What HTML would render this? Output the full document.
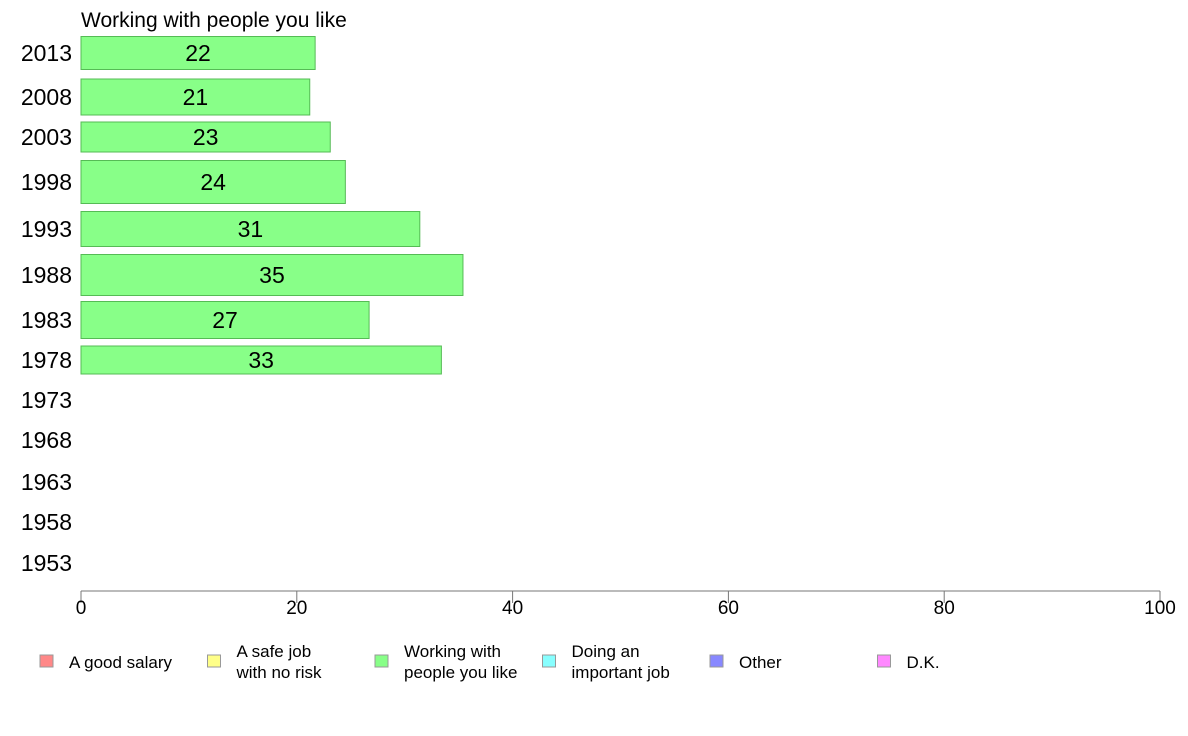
<!DOCTYPE html>
<html><head><meta charset="utf-8"><style>
body{margin:0;background:#fff;}
svg{display:block;font-family:"Liberation Sans",Arial,sans-serif;}
</style></head><body>
<svg id="chart" width="1188" height="736" viewBox="0 0 1188 736">
<text x="81" y="27" font-size="21" fill="#000">Working with people you like</text>
<g id="bars"></g>
<g id="axis"></g>
<g id="legend"></g>
</svg>
<script>
const years = ["2013","2008","2003","1998","1993","1988","1983","1978","1973","1968","1963","1958","1953"];
const values = [21.7,21.2,23.1,24.5,31.4,35.4,26.7,33.4,null,null,null,null,null];
const labels = ["22","21","23","24","31","35","27","33","","","","",""];
const ticks = [0,20,40,60,80,100];
const legendNames = [["A good salary"],["A safe job","with no risk"],["Working with","people you like"],["Doing an","important job"],["Other"],["D.K."]];
const legendColors = ["#ff8888","#ffff88","#88ff88","#88ffff","#8888ff","#ff88ff"];
// layout
const rowCenter=[53,97,137,182,229,275,320,360,400,440,482,522,563];
const rowHeight=[33,36,30,43,35,41,37,28,0,0,0,0,0];
const x0=81,x1=1160,axisY=591;
const xs=v=>x0+(v/100)*(x1-x0);
const NS="http://www.w3.org/2000/svg";
function mk(tag,attrs,parent,text){const e=document.createElementNS(NS,tag);for(const k in attrs)e.setAttribute(k,attrs[k]);if(text!==undefined)e.textContent=text;parent.appendChild(e);return e;}
const gb=document.getElementById('bars');
years.forEach((y,i)=>{
  const t=mk('text',{x:72,y:rowCenter[i]+8,'font-size':23,'text-anchor':'end',fill:'#000'},gb,y);
  
  
  if(values[i]!=null){
    const h=rowHeight[i];
    const r=mk('rect',{x:x0,y:rowCenter[i]-h/2,width:xs(values[i])-x0,height:h,fill:'#88ff88',stroke:'#55bb55','stroke-width':1},gb);
    
    
    const l=mk('text',{x:(x0+xs(values[i]))/2,y:rowCenter[i]+8,'font-size':23,'text-anchor':'middle',fill:'#000'},gb,labels[i]);
    
    
  }
});
const ga=document.getElementById('axis');
const al=mk('line',{x1:x0,x2:x1,y1:axisY,y2:axisY,stroke:'#777','stroke-width':1},ga);


ticks.forEach(t=>{
  const tl=mk('line',{x1:xs(t),x2:xs(t),y1:axisY,y2:axisY+12,stroke:'#777','stroke-width':1},ga);
  
  
  const tx=mk('text',{x:xs(t),y:614,'font-size':19,'text-anchor':'middle',fill:'#000'},ga,t);
  
  
});
const gl=document.getElementById('legend');
legendNames.forEach((n,i)=>{
  const bx=40+i*167.5;
  const r=mk('rect',{x:bx,y:655,width:13,height:12,fill:legendColors[i],stroke:'#999','stroke-width':1},gl);
  
  
  const t=mk('text',{x:bx+29,y:n.length==1?668:657,'font-size':17,fill:'#000'},gl);
  
  
  n.forEach((line,j)=>{mk('tspan',{x:bx+29,dy:j==0?0:21},t,line);});
});
</script>
</body></html>
